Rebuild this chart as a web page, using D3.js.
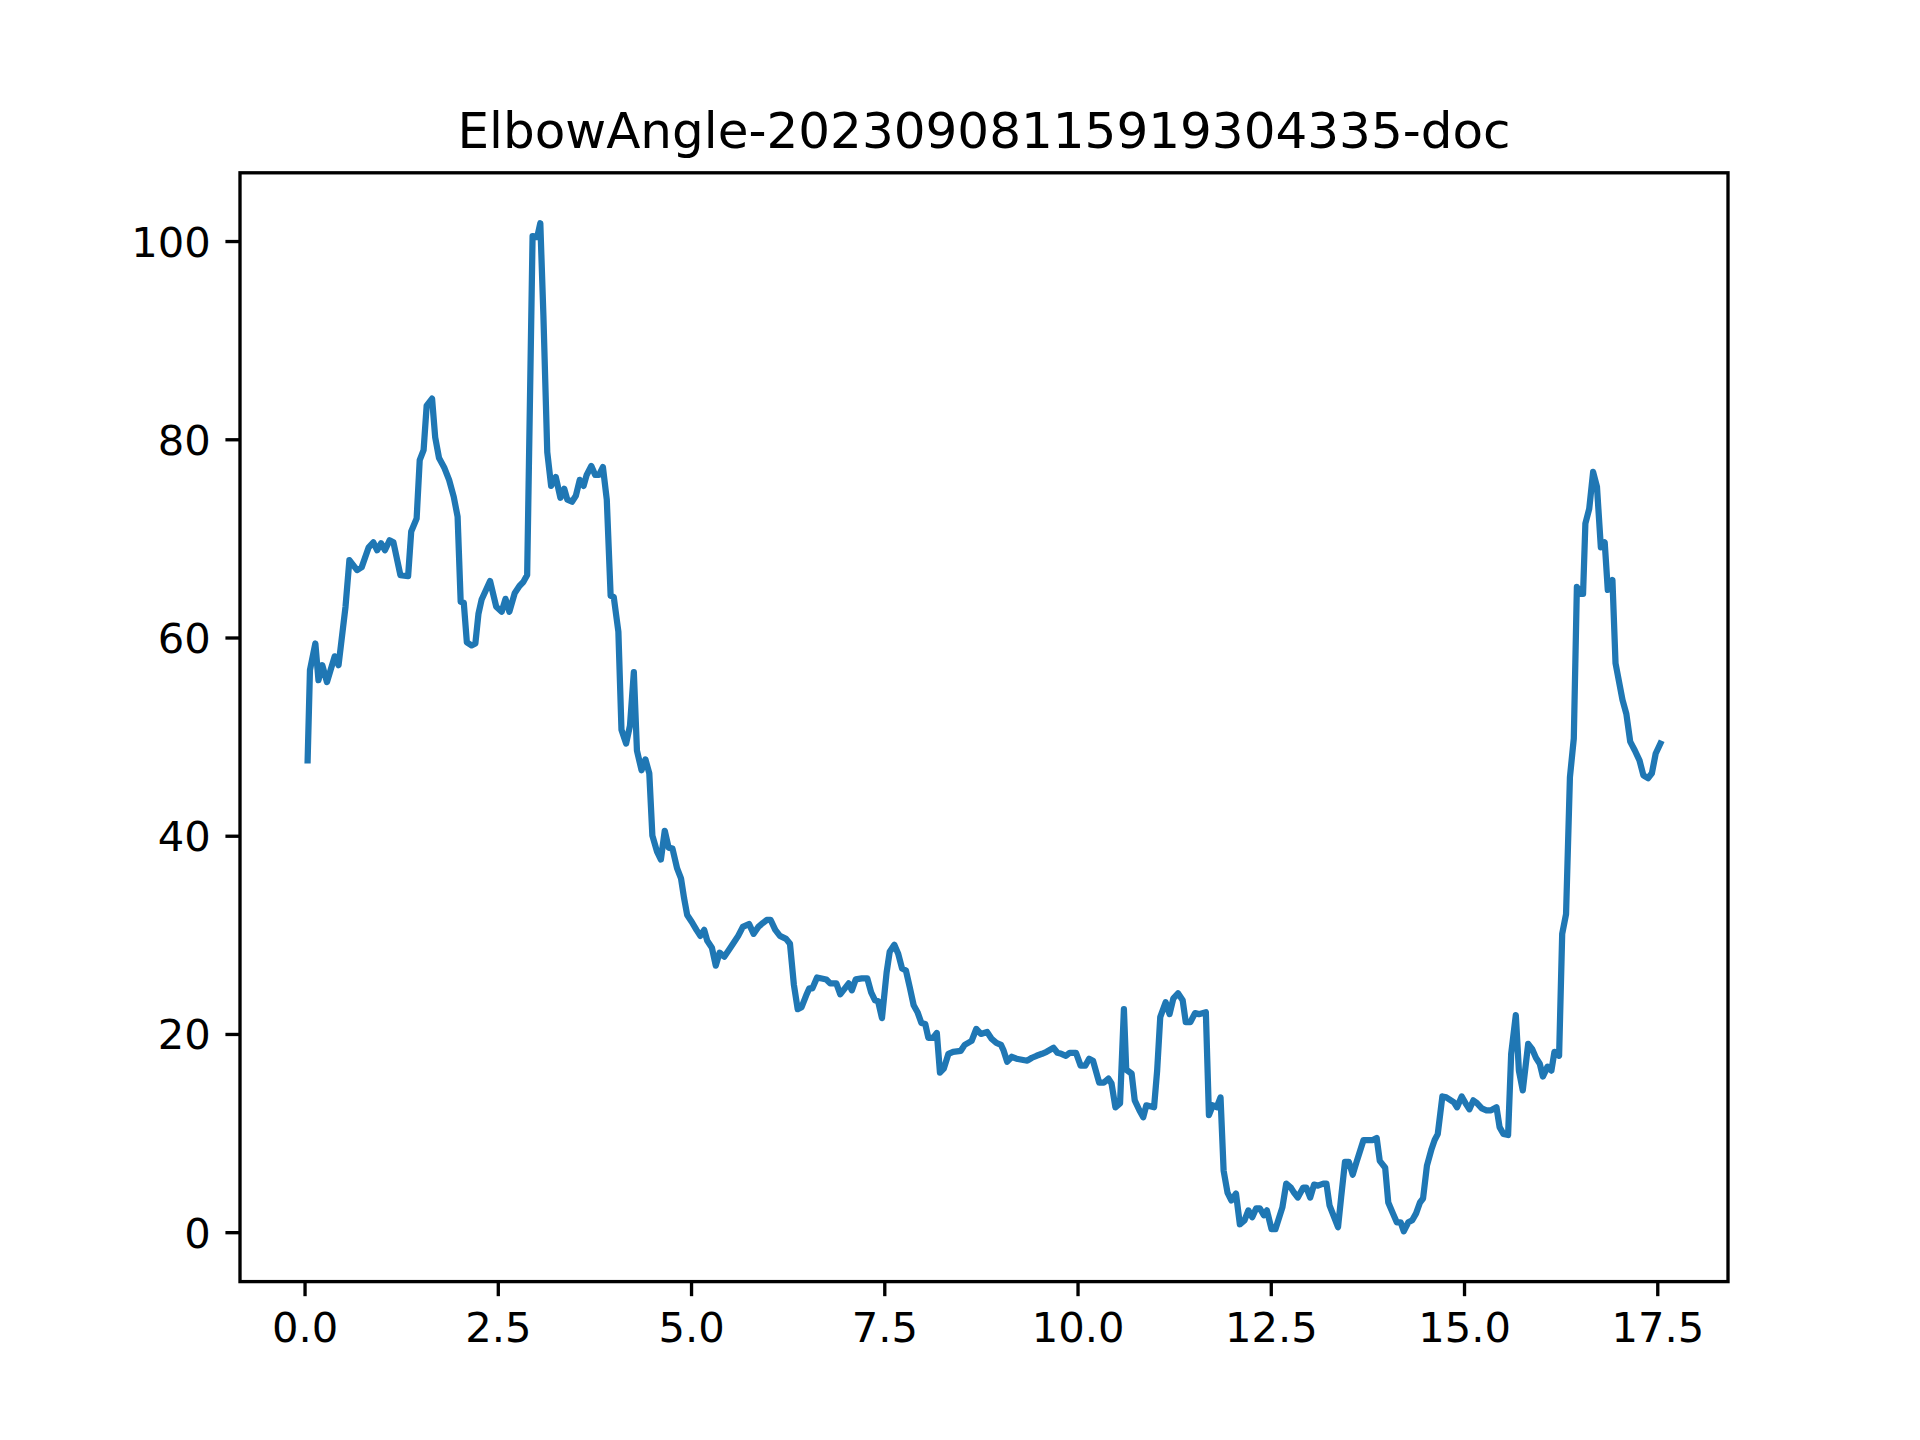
<!DOCTYPE html>
<html>
<head>
<meta charset="utf-8">
<title>ElbowAngle</title>
<script src="https://cdn.jsdelivr.net/npm/d3@7"></script>
<style>
    html, body {margin: 0; padding: 0; background: #fff;}
    #chart-area {width: 1920px; height: 1440px;}
    text {font-family: "DejaVu Sans", sans-serif;}
</style>
</head>
<body>
<div id="chart-area"></div>
<script>

// chart title
let chartTitle = "ElbowAngle-20230908115919304335-doc";

// time (s)
let times = [
    0.04, 0.07, 0.14, 0.18, 0.23, 0.29, 0.39, 0.44, 0.53, 0.58, 0.68, 0.74, 0.83, 0.89, 0.94, 0.99,
    1.04, 1.10, 1.15, 1.24, 1.34, 1.38, 1.45, 1.49, 1.54, 1.58, 1.65, 1.69, 1.74, 1.81, 1.87, 1.93, 1.98,
    2.02, 2.06, 2.10, 2.16, 2.21, 2.25, 2.29, 2.40, 2.48, 2.55, 2.60, 2.65, 2.72, 2.78, 2.83, 2.88, 2.95,
    3.01, 3.05, 3.09, 3.14, 3.19, 3.25, 3.31, 3.36, 3.40, 3.46, 3.51, 3.56, 3.61, 3.65, 3.71, 3.76, 3.81,
    3.86, 3.91, 3.96, 4.00, 4.06, 4.10, 4.16, 4.21, 4.26, 4.30, 4.36, 4.41, 4.46, 4.50, 4.56, 4.61, 4.66,
    4.71, 4.76, 4.82, 4.87, 4.91, 4.95, 5.01, 5.07, 5.12, 5.17, 5.21, 5.27, 5.32, 5.37, 5.43, 5.50, 5.56,
    5.61, 5.67, 5.75, 5.81, 5.87, 5.93, 5.98, 6.03, 6.09, 6.15, 6.23, 6.28, 6.33, 6.38, 6.43, 6.49, 6.53,
    6.57, 6.63, 6.69, 6.75, 6.80, 6.88, 6.93, 6.99, 7.04, 7.08, 7.13, 7.21, 7.28, 7.33, 7.38, 7.42, 7.47,
    7.53, 7.57, 7.63, 7.68, 7.73, 7.78, 7.83, 7.88, 7.93, 7.98, 8.03, 8.07, 8.13, 8.18, 8.22, 8.27, 8.33,
    8.39, 8.49, 8.54, 8.63, 8.69, 8.75, 8.83, 8.89, 8.95, 9.01, 9.04, 9.09, 9.15, 9.21, 9.28, 9.35, 9.41,
    9.47, 9.54, 9.60, 9.69, 9.74, 9.79, 9.85, 9.90, 9.98, 10.04, 10.10, 10.15, 10.20, 10.28, 10.34, 10.40,
    10.44, 10.49, 10.55, 10.60, 10.63, 10.70, 10.74, 10.80, 10.85, 10.89, 10.99, 11.03, 11.07, 11.14,
    11.19, 11.24, 11.30, 11.36, 11.40, 11.46, 11.52, 11.57, 11.66, 11.70, 11.75, 11.80, 11.85, 11.89,
    11.94, 11.99, 12.05, 12.10, 12.16, 12.21, 12.26, 12.31, 12.36, 12.41, 12.45, 12.51, 12.56, 12.65,
    12.70, 12.76, 12.80, 12.85, 12.92, 12.96, 13.01, 13.06, 13.11, 13.18, 13.22, 13.26, 13.37, 13.41,
    13.46, 13.51, 13.56, 13.61, 13.70, 13.76, 13.82, 13.87, 13.91, 13.98, 14.02, 14.08, 14.13, 14.18,
    14.22, 14.28, 14.33, 14.38, 14.43, 14.47, 14.52, 14.58, 14.62, 14.66, 14.72, 14.77, 14.83, 14.87,
    14.91, 14.97, 15.02, 15.07, 15.12, 15.17, 15.23, 15.29, 15.35, 15.42, 15.46, 15.51, 15.57, 15.61,
    15.67, 15.71, 15.76, 15.83, 15.88, 15.93, 15.98, 16.02, 16.08, 16.13, 16.17, 16.23, 16.27, 16.32,
    16.37, 16.42, 16.46, 16.51, 16.54, 16.57, 16.62, 16.67, 16.72, 16.77, 16.82, 16.86, 16.92, 16.96,
    17.05, 17.10, 17.15, 17.21, 17.27, 17.32, 17.38, 17.43, 17.48, 17.54
];

// elbow angle values, same order as times
let angles = [
    47.6, 56.7, 59.4, 55.7, 57.2, 55.5, 58.1, 57.2, 63.1, 67.8, 66.8, 67.1, 69.1, 69.6, 68.8, 69.5,
    68.8, 69.8, 69.6, 66.3, 66.2, 70.7, 72.0, 77.9, 78.9, 83.4, 84.1, 80.2, 78.1, 77.1, 75.9, 74.2, 72.2,
    63.6, 63.5, 59.5, 59.2, 59.4, 62.4, 63.8, 65.7, 63.1, 62.6, 63.9, 62.6, 64.5, 65.2, 65.6, 66.3, 100.5,
    100.4, 101.8, 92.5, 78.7, 75.3, 76.2, 74.1, 75.0, 73.9, 73.7, 74.3, 75.9, 75.3, 76.4, 77.3, 76.4, 76.4,
    77.2, 73.9, 64.2, 64.1, 60.6, 50.7, 49.3, 51.1, 56.5, 48.6, 46.6, 47.7, 46.3, 40.0, 38.4, 37.6, 40.5,
    38.8, 38.7, 36.7, 35.7, 33.7, 32.0, 31.3, 30.5, 29.9, 30.5, 29.4, 28.7, 26.9, 28.2, 27.8, 28.6, 29.3,
    29.9, 30.8, 31.1, 30.1, 30.8, 31.2, 31.5, 31.5, 30.5, 29.9, 29.6, 29.1, 25.0, 22.5, 22.7, 23.9, 24.6,
    24.6, 25.7, 25.6, 25.5, 25.1, 25.1, 24.0, 24.6, 25.1, 24.4, 25.5, 25.6, 25.6, 24.2, 23.4, 23.3, 21.6,
    26.2, 28.3, 29.0, 28.1, 26.6, 26.4, 24.7, 22.9, 22.2, 21.1, 21.0, 19.6, 19.6, 20.1, 16.1, 16.5, 18.0,
    18.2, 18.3, 18.9, 19.3, 20.5, 20.0, 20.2, 19.5, 19.1, 18.9, 18.4, 17.2, 17.7, 17.5, 17.4, 17.3, 17.6,
    17.8, 18.0, 18.2, 18.6, 18.1, 18.0, 17.8, 18.1, 18.1, 16.8, 16.8, 17.5, 17.3, 15.1, 15.1, 15.5,
    15.0, 12.6, 13.0, 22.5, 16.4, 16.0, 13.3, 12.3, 11.6, 12.8, 12.6, 16.3, 21.7, 23.2,
    22.0, 23.6, 24.1, 23.4, 21.2, 21.2, 22.1, 22.0, 22.2, 11.8, 12.8, 12.6, 13.6, 6.2,
    4.0, 3.2, 3.9, 0.8, 1.2, 2.2, 1.5, 2.4, 2.4, 1.7, 2.2, 0.3, 0.3, 2.5,
    4.9, 4.5, 4.0, 3.5, 4.5, 4.5, 3.5, 4.8, 4.7, 4.9, 4.9, 2.7, 0.5, 3.5,
    7.1, 7.1, 5.8, 7.1, 9.3, 9.3, 9.3, 9.5, 7.2, 6.5, 3.0, 1.9, 1.0, 1.0,
    0.1, 1.0, 1.2, 1.9, 3.0, 3.4, 6.7, 8.4, 9.3, 9.9, 13.7, 13.6, 13.3, 13.1,
    12.6, 13.7, 13.0, 12.4, 13.3, 13.0, 12.5, 12.3, 12.3, 12.6, 10.6, 9.9, 9.8, 18.0,
    21.9, 16.3, 14.3, 19.0, 18.5, 17.6, 17.0, 15.7, 16.7, 16.3, 18.2, 17.8, 30.1, 32.1,
    45.9, 49.8, 65.1, 64.4, 64.4, 71.5, 73.0, 76.7, 75.2, 69.1, 69.6, 64.8, 65.8, 57.4,
    53.7, 52.3, 49.5, 48.6, 47.6, 46.1, 45.8, 46.3, 48.3, 49.3
];

// tick values
let xTicks = [0, 2.5, 5, 7.5, 10, 12.5, 15, 17.5];
let yTicks = [0, 20, 40, 60, 80, 100];


/* * * * * * * * * * * * * *
*        AngleLine         *
* * * * * * * * * * * * * */

class AngleLine {

    constructor(_parentElement) {
        this.parentElement = _parentElement;
        this.displayData = [];

        this.initVis();
    }

    initVis() {
        let vis = this;

        // 300 dpi figure, so 1pt = 300/72 px
        vis.pt = 300 / 72;
        vis.margin = {top: 172.8, right: 192, bottom: 158.4, left: 240};

        vis.width = 1920 - vis.margin.left - vis.margin.right;
        vis.height = 1440 - vis.margin.top - vis.margin.bottom;

        // SVG drawing area
        vis.svg = d3.select("#" + vis.parentElement).append("svg")
            .attr("width", 1920)
            .attr("height", 1440)
            .append("g")
            .attr("transform", "translate(" + vis.margin.left + "," + vis.margin.top + ")");

        // Scales
        vis.x = d3.scaleLinear().range([0, vis.width]);
        vis.y = d3.scaleLinear().range([vis.height, 0]);

        vis.xAxis = d3.axisBottom(vis.x)
            .tickValues(xTicks)
            .tickFormat(d3.format(".1f"))
            .tickSize(3.5 * vis.pt)
            .tickPadding(3.5 * vis.pt);

        vis.yAxis = d3.axisLeft(vis.y)
            .tickValues(yTicks)
            .tickFormat(d3.format("d"))
            .tickSize(3.5 * vis.pt)
            .tickPadding(3.5 * vis.pt);

        vis.xAxisGroup = vis.svg.append("g")
            .attr("class", "x-axis")
            .attr("transform", "translate(0," + vis.height + ")");

        vis.yAxisGroup = vis.svg.append("g")
            .attr("class", "y-axis");

        vis.linePath = vis.svg.append("path")
            .attr("class", "angle-line");

        // frame on top of the line
        vis.frame = vis.svg.append("rect")
            .attr("width", vis.width)
            .attr("height", vis.height)
            .attr("fill", "none")
            .attr("stroke", "#000")
            .attr("stroke-width", 0.8 * vis.pt)
            .attr("stroke-linejoin", "miter");

        vis.svg.append("text")
            .attr("x", vis.width / 2)
            .attr("y", -6 * vis.pt)
            .attr("text-anchor", "middle")
            .style("font-size", (12 * vis.pt) + "px")
            .text(chartTitle);

        vis.wrangleData();
    }

    wrangleData() {
        let vis = this;

        vis.displayData = times.map(function (t, i) {
            return {time: t, angle: angles[i]};
        });

        vis.updateVis();
    }

    updateVis() {
        let vis = this;

        // matplotlib style 5% margins around the data
        let xExt = d3.extent(vis.displayData, d => d.time);
        let yExt = d3.extent(vis.displayData, d => d.angle);
        let xPad = (xExt[1] - xExt[0]) * 0.05;
        let yPad = (yExt[1] - yExt[0]) * 0.05;
        vis.x.domain([xExt[0] - xPad, xExt[1] + xPad]);
        vis.y.domain([yExt[0] - yPad, yExt[1] + yPad]);

        vis.line = d3.line()
            .x(d => vis.x(d.time))
            .y(d => vis.y(d.angle));

        vis.linePath
            .datum(vis.displayData)
            .attr("d", vis.line)
            .attr("fill", "none")
            .attr("stroke", "#1f77b4")
            .attr("stroke-width", 1.5 * vis.pt)
            .attr("stroke-linejoin", "round")
            .attr("stroke-linecap", "square");

        vis.xAxisGroup.call(vis.xAxis);
        vis.yAxisGroup.call(vis.yAxis);

        vis.svg.selectAll(".domain").remove();
        vis.svg.selectAll(".tick line")
            .attr("stroke", "#000")
            .attr("stroke-width", 0.8 * vis.pt);
        vis.svg.selectAll(".tick text")
            .attr("fill", "#000")
            .style("font-family", "'DejaVu Sans', sans-serif")
            .style("font-size", (10 * vis.pt) + "px");
        vis.xAxisGroup.selectAll(".tick text").attr("dy", "0.76em");
        vis.yAxisGroup.selectAll(".tick text").attr("dy", "0.36em");
    }
}

new AngleLine("chart-area");

</script>
</body>
</html>
